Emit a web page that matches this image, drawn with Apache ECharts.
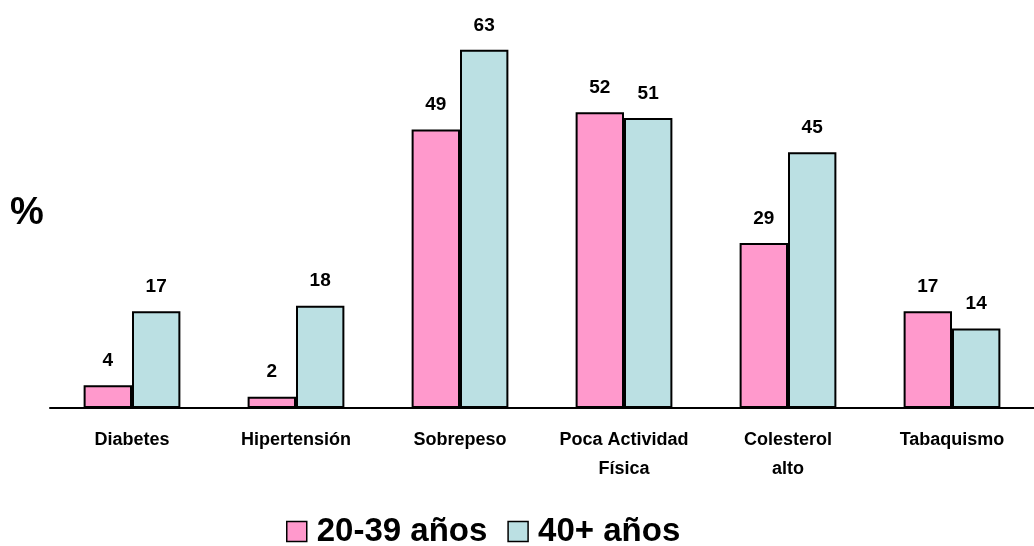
<!DOCTYPE html>
<html>
<head>
<meta charset="utf-8">
<script src="https://cdn.jsdelivr.net/npm/echarts@6/dist/echarts.min.js"></script>
<style>html,body{margin:0;padding:0;background:#fff;}#c{width:1034px;height:546px;}</style>
</head>
<body>
<div id="c"></div>
<script>
const categories = ['Diabetes', 'Hipertensión', 'Sobrepeso', 'Poca Actividad\nFísica', 'Colesterol\nalto', 'Tabaquismo'];
const seriesNames = ['20-39 años', '40+ años'];
const young = [4, 2, 49, 52, 29, 17];
const older = [17, 18, 63, 51, 45, 14];
const yAxisLabel = '%';

const chart = echarts.init(document.getElementById('c'), null, {renderer: 'canvas'});
const font = '"Liberation Sans", Arial, sans-serif';
const labelCfg = {show: true, position: 'top', distance: 15, color: '#000', fontWeight: 'bold', fontSize: 19, fontFamily: font};
chart.setOption({
  animation: false,
  backgroundColor: '#fff',
  grid: {left: 50, top: 10, width: 996, height: 398},
  xAxis: {
    type: 'category', data: categories,
    axisLine: {show: true, lineStyle: {color: '#000', width: 2}},
    axisTick: {show: false},
    axisLabel: {interval: 0, color: '#000', fontWeight: 'bold', fontSize: 18, fontFamily: font, margin: 18, lineHeight: 29}
  },
  yAxis: {type: 'value', min: 0, max: 70, show: false, splitLine: {show: false}},
  legend: {
    left: 281, top: 510, itemWidth: 20, itemHeight: 20, itemGap: 20,
    icon: 'rect',
    itemStyle: {borderColor: '#000', borderWidth: 1.5},
    textStyle: {color: '#000', fontWeight: 'bold', fontSize: 33, fontFamily: font, padding: [0, 0, 0, 5]},
    data: seriesNames
  },
  graphic: [{type: 'text', left: 10, top: 195, style: {text: yAxisLabel, fill: '#000', font: 'bold 38px ' + font}}],
  series: [
    {name: seriesNames[0], type: 'bar', data: young, barGap: 0, barCategoryGap: '41%',
     itemStyle: {color: '#FF99CC', borderColor: '#000', borderWidth: 2}, label: labelCfg},
    {name: seriesNames[1], type: 'bar', data: older,
     itemStyle: {color: '#BBE0E3', borderColor: '#000', borderWidth: 2}, label: labelCfg}
  ]
});
</script>
</body>
</html>
